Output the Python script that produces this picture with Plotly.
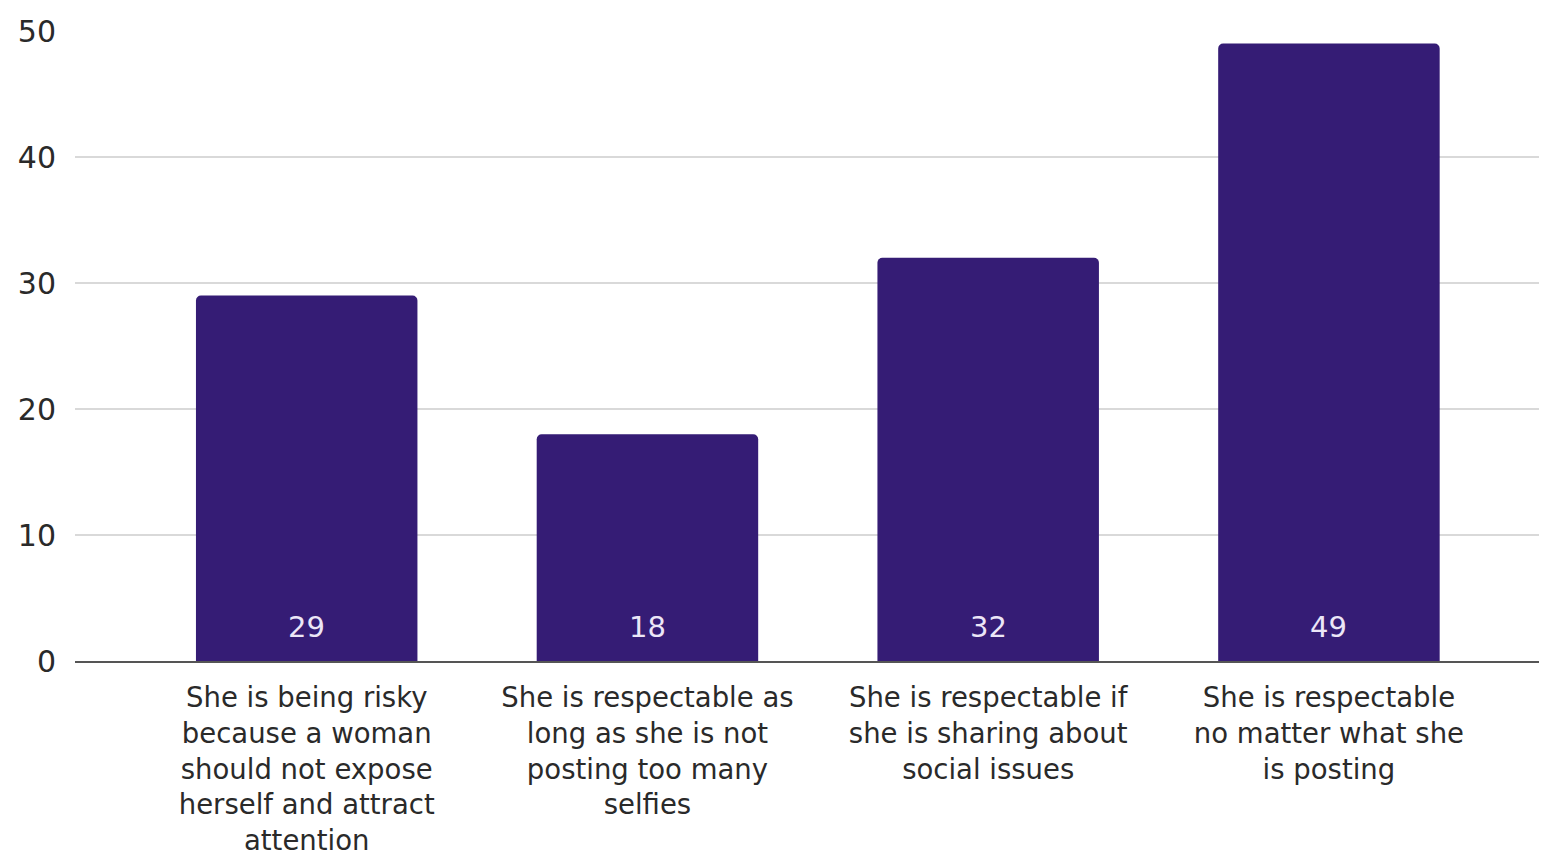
import plotly.graph_objects as go

categories = [
    "She is being risky<br>because a woman<br>should not expose<br>herself and attract<br>attention",
    "She is respectable as<br>long as she is not<br>posting too many<br>selfies",
    "She is respectable if<br>she is sharing about<br>social issues",
    "She is respectable<br>no matter what she<br>is posting",
]
values = [29, 18, 32, 49]
y_ticks = [0, 10, 20, 30, 40, 50]

FONT = "DejaVu Sans"

fig = go.Figure(
    go.Bar(
        x=categories,
        y=values,
        marker=dict(color="#351c75", line=dict(width=0)),
        width=0.65,
        hoverinfo="x+y",
    )
)

for c, v in zip(categories, values):
    fig.add_annotation(
        x=c, y=0, text=str(v), showarrow=False,
        yanchor="middle", yshift=34,
        font=dict(family=FONT, size=29, color="#ece6f7"),
    )

# page body has an 8px margin, so figure is sized/offset to compensate
fig.update_layout(
    width=1539,
    height=846,
    margin=dict(l=67, r=0, t=23, b=193, autoexpand=False),
    paper_bgcolor="white",
    plot_bgcolor="white",
    barcornerradius=5,
    showlegend=False,
    font=dict(family=FONT, color="#2a2a2a"),
    xaxis=dict(
        range=[-0.68, 3.64],
        tickfont=dict(family=FONT, size=27.5, color="#2a2a2a"),
        showgrid=False,
        showline=True,
        linecolor="#555555",
        linewidth=2,
        ticks="",
        tickangle=0,
        automargin=False,
        ticklabelstandoff=11,
    ),
    yaxis=dict(
        range=[0, 50],
        tickvals=y_ticks,
        tickfont=dict(family=FONT, size=30, color="#2a2a2a"),
        showgrid=True,
        gridcolor="#d9d9d9",
        gridwidth=2,
        zeroline=False,
        ticks="",
        ticklabelstandoff=18,
        automargin=False,
    ),
)

fig.write_html("out.html")
